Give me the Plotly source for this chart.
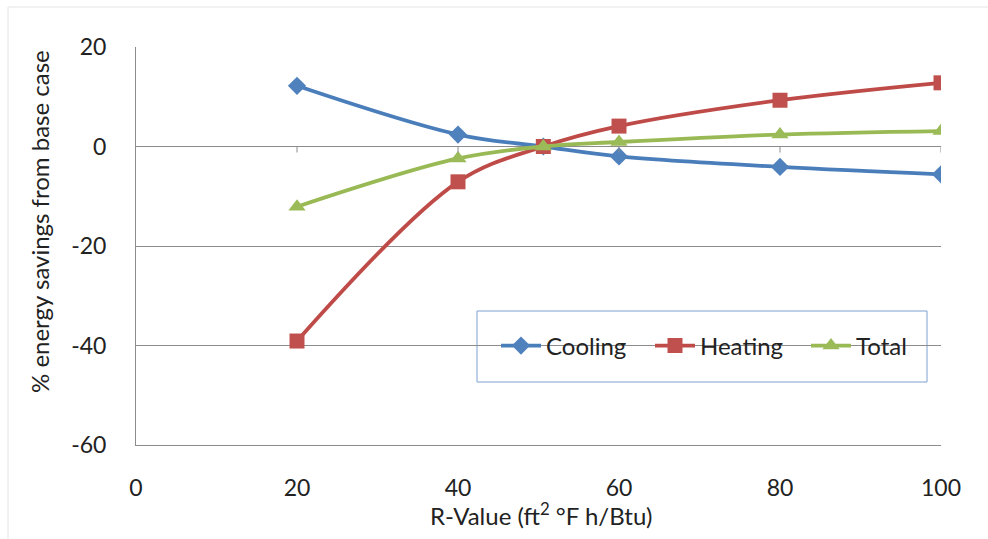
import plotly.graph_objects as go

r_values = [20, 40, 50.6, 60, 80, 100]
cooling = [12.2, 2.4, 0.0, -2.0, -4.1, -5.6]
heating = [-39.1, -7.1, 0.0, 4.1, 9.3, 12.8]
total = [-12.1, -2.4, 0.0, 0.9, 2.4, 3.1]

x_ticks = [0, 20, 40, 60, 80, 100]
y_ticks = [-60, -40, -20, 0, 20]

FONT = "Lato"
TXT = "#222222"
GRID = "#8c8c8c"

W, H = 988, 539
L, R, T, B = 136, 941, 47, 445
pw, ph = R - L, B - T


def px(p):
    return (p - L) / pw


def py(p):
    return (B - p) / ph


fig = go.Figure()
series = [
    ("Cooling", cooling, "#4A7EBB", "#4F81BD", "diamond", 14, "legend", 496),
    ("Heating", heating, "#BE4B48", "#C0504D", "square", 15, "legend2", 650),
    ("Total", total, "#98B954", "#9BBB59", "triangle-up", 15, "legend3", 806),
]
legends = {}
for name, vals, lc, mc, sym, sz, lg, lx in series:
    fig.add_trace(go.Scatter(
        x=r_values, y=vals, name=name, mode="lines+markers",
        line=dict(color=lc, width=3.8, shape="spline", smoothing=1.0),
        marker=dict(symbol=sym, size=sz, color=mc, line=dict(width=0)),
        legend=lg,
    ))
    legends[lg] = dict(x=px(lx), y=py(346), xanchor="left", yanchor="middle",
                       bgcolor="rgba(0,0,0,0)", borderwidth=0,
                       font=dict(family=FONT, size=24, color=TXT), itemwidth=40)

shapes = []
# tick marks on the zero line
for t in x_ticks[1:]:
    shapes.append(dict(type="line", xref="x", yref="y", ysizemode="pixel", yanchor=0,
                       x0=t, x1=t, y0=0, y1=-6, line=dict(color=GRID, width=1)))
# legend box
shapes.append(dict(type="rect", xref="paper", yref="paper", layer="between",
                   x0=px(477), x1=px(927), y0=py(382), y1=py(311),
                   fillcolor="white", line=dict(color="#7FA1D3", width=1)))
# outer chart border
shapes.append(dict(type="rect", xref="paper", yref="paper", layer="below",
                   x0=px(8), x1=px(995), y0=py(546), y1=py(7),
                   fillcolor="rgba(0,0,0,0)", line=dict(color="#e4e4e4", width=1)))

fig.update_layout(
    width=W, height=H,
    margin=dict(l=L, r=W - R, t=T, b=H - B, autoexpand=False),
    paper_bgcolor="white", plot_bgcolor="white",
    font=dict(family=FONT, size=23, color=TXT),
    showlegend=True,
    xaxis=dict(range=[0, 100], tickvals=x_ticks, ticktext=[str(v) for v in x_ticks],
               showgrid=False, zeroline=False, showline=True, linecolor=GRID, linewidth=1,
               ticks="", ticklabelstandoff=22, tickfont=dict(size=23, color=TXT)),
    yaxis=dict(range=[-60, 20], tickvals=y_ticks, ticktext=[str(v) for v in y_ticks],
               showgrid=True, gridcolor=GRID, gridwidth=1,
               zeroline=True, zerolinecolor=GRID, zerolinewidth=1,
               showline=True, linecolor=GRID, linewidth=1, ticks="",
               ticklabelstandoff=24, tickfont=dict(size=23, color=TXT)),
    shapes=shapes,
    annotations=[
        dict(text="% energy savings from base case", xref="paper", yref="paper",
             x=px(40), y=py(222), textangle=-90, showarrow=False,
             xanchor="center", yanchor="middle", font=dict(size=24, color=TXT)),
        dict(text="R-Value (ft<sup>2</sup> °F h/Btu)", xref="paper", yref="paper",
             x=px(541), y=py(514), showarrow=False,
             xanchor="center", yanchor="middle", font=dict(size=24, color=TXT)),
    ],
)
fig.update_layout(**legends)

fig.write_html("out.html")
